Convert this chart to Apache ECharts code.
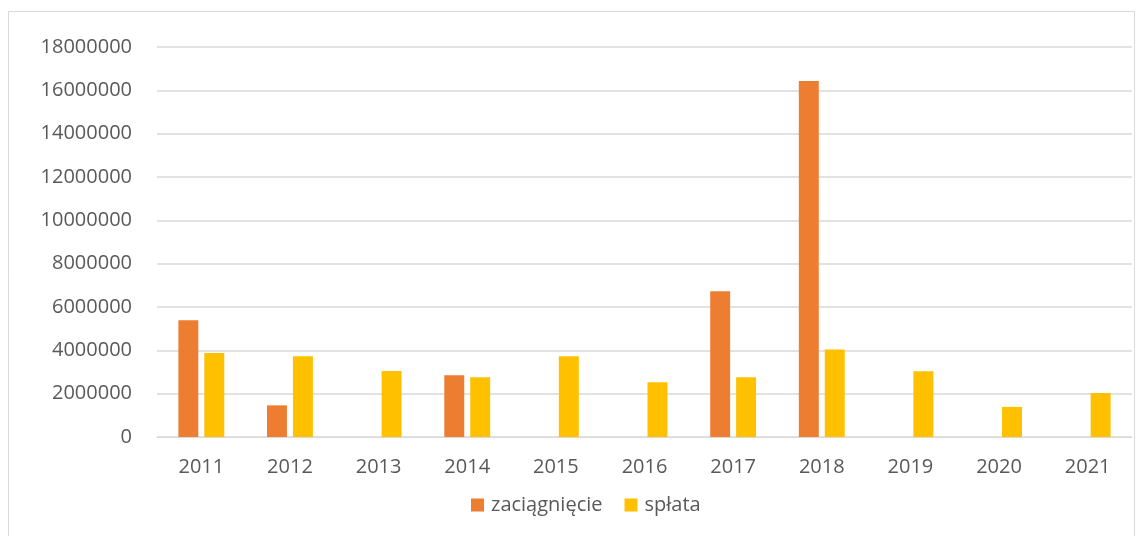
<!DOCTYPE html>
<html>
<head>
<meta charset="utf-8">
<script src="https://cdn.jsdelivr.net/npm/echarts@6/dist/echarts.min.js"></script>
<style>
  html, body { margin: 0; padding: 0; background: #fff; }
  #chart { width: 1146px; height: 536px; }
</style>
</head>
<body>
<div id="chart"></div>
<script>
// Years on the category axis
const years = ['2011', '2012', '2013', '2014', '2015', '2016', '2017', '2018', '2019', '2020', '2021'];
// Borrowed amounts (null where nothing was taken)
const zaciagniecie = [5390000, 1460000, null, 2850000, null, null, 6730000, 16430000, null, null, null];
// Repaid amounts
const splata = [3880000, 3730000, 3050000, 2760000, 3730000, 2530000, 2760000, 4040000, 3030000, 1390000, 2030000];
// Value axis range
const yMin = 0, yMax = 18000000, yStep = 2000000;

const textColor = '#595959';
const fontFam = '"Open Sans", "Liberation Sans", sans-serif';

const chart = echarts.init(document.getElementById('chart'), null, { renderer: 'canvas' });
chart.setOption({
  animation: false,
  backgroundColor: '#fff',
  graphic: [{
    type: 'rect',
    shape: { x: 8.5, y: 11.5, width: 1126, height: 540 },
    style: { fill: 'none', stroke: '#D9D9D9', lineWidth: 1 },
    silent: true
  }],
  grid: { left: 157, right: 14, top: 47, bottom: 99, containLabel: false },
  legend: {
    bottom: 16,
    left: 466,
    itemWidth: 13,
    itemHeight: 13,
    itemGap: 22,
    icon: 'rect',
    textStyle: { color: textColor, fontSize: 20, fontFamily: fontFam, padding: [0, 0, 0, 2] },
    data: ['zaciągnięcie', 'spłata']
  },
  xAxis: {
    type: 'category',
    data: years,
    axisLine: { show: true, lineStyle: { color: '#D9D9D9', width: 1 } },
    axisTick: { show: false },
    axisLabel: { color: textColor, fontSize: 20, fontFamily: fontFam, margin: 20 }
  },
  yAxis: {
    type: 'value',
    min: yMin,
    max: yMax,
    interval: yStep,
    axisLine: { show: false },
    axisTick: { show: false },
    splitLine: { lineStyle: { color: '#D9D9D9', width: 1.5 } },
    axisLabel: {
      color: textColor, fontSize: 20, fontFamily: fontFam, margin: 25,
      formatter: v => String(v)
    }
  },
  series: [
    {
      name: 'zaciągnięcie',
      type: 'bar',
      data: zaciagniecie,
      barWidth: '22.5%',
      barGap: '30%',
      itemStyle: { color: '#ED7D31' }
    },
    {
      name: 'spłata',
      type: 'bar',
      data: splata,
      barWidth: '22.5%',
      barGap: '30%',
      itemStyle: { color: '#FFC000' }
    }
  ]
});
</script>
</body>
</html>
